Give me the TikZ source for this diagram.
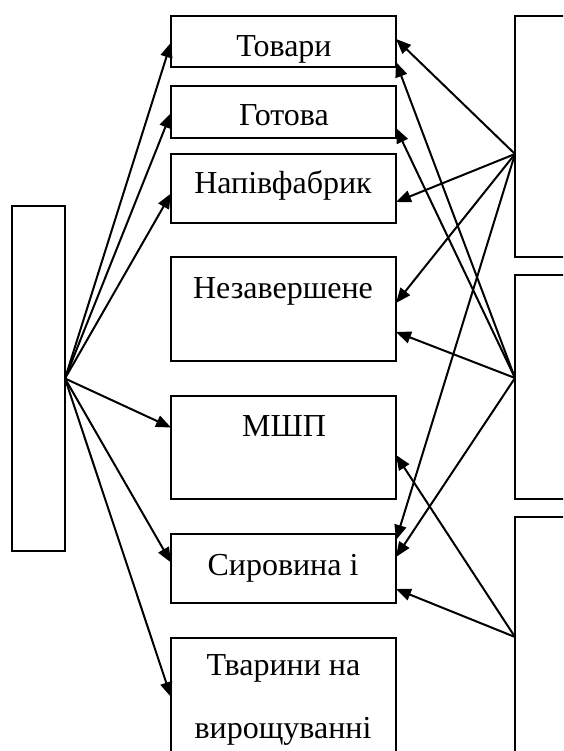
\documentclass[tikz,border=0pt]{standalone}
\usepackage{fontspec}
\setmainfont{Liberation Serif}
\usetikzlibrary{arrows.meta}
\begin{document}
\begin{tikzpicture}[x=1pt,y=-1pt,
  box/.style={draw,line width=1.8pt,inner sep=0pt,outer sep=0pt,minimum width=225pt},
  lbl/.style={anchor=base,inner sep=0pt,font=\fontsize{32}{38}\selectfont},
  arr/.style={line width=2pt,-{Triangle[length=15pt,width=12pt]}}]
\useasboundingbox (0,0) rectangle (563,751);
\begin{scope}
\clip (0,0) rectangle (563,751);

% left box
\node[box,minimum width=53pt,minimum height=345pt] (lb) at (38.5,378.5) {};

% central column
\node[box,minimum height=51pt]  (tov) at (283.5,41.5) {};
\node[box,minimum height=52pt]  (got) at (283.5,112) {};
\node[box,minimum height=69pt]  (nap) at (283.5,188.5) {};
\node[box,minimum height=104pt] (nez) at (283.5,309) {};
\node[box,minimum height=103pt] (msp) at (283.5,447.5) {};
\node[box,minimum height=69pt]  (syr) at (283.5,568.5) {};
\node[box,minimum height=152pt] (tva) at (283.5,714) {};

\node[lbl] (ttov) at (284,57)  {Товари};
\node[lbl] (tgot) at (284,126) {Готова};
\node[lbl] (tnap) at (283,194) {Напівфабрик};
\node[lbl] (tnez) at (283,298) {Незавершене};
\node[lbl] (tmsp) at (284,436) {МШП};
\node[lbl] (tsyr) at (283,575) {Сировина і};
\node[lbl] (ttv1) at (283.5,675) {Тварини на};
\node[lbl] (ttv2) at (283,738) {вирощуванні};

% right column (partly outside the frame)
\node[box,minimum width=105pt,minimum height=241pt] (r1) at (567.5,136.5) {};
\node[box,minimum width=105pt,minimum height=224pt] (r2) at (567.5,387) {};
\node[box,minimum width=105pt,minimum height=283pt] (r3) at (567.5,658.5) {};

% fan points
\coordinate (pl) at (lb.east);
\coordinate (p1) at (515,154);
\coordinate (p2) at (515,378);
\coordinate (p3) at (515,637);

% arrows from the left box
\draw[arr] (pl) -- ([yshift=-1pt]tov.west);
\draw[arr] (pl) -- ([yshift=-1pt]got.west);
\draw[arr] (pl) -- ([yshift=-5pt]nap.west);
\draw[arr] (pl) -- ([yshift=20pt]msp.west);
\draw[arr] (pl) -- ([yshift=6pt]syr.west);
\draw[arr] (pl) -- ([yshift=-59pt]tva.north west);

% arrows from the first right box
\draw[arr] (p1) -- ([yshift=2.5pt]tov.east);
\draw[arr] (p1) -- ([yshift=-13.5pt]nap.east);
\draw[arr] (p1) -- ([yshift=6pt]nez.east);
\draw[arr] (p1) -- ([yshift=28.5pt]syr.east);

% arrows from the second right box
\draw[arr] (p2) -- ([yshift=-20.5pt]tov.east);
\draw[arr] (p2) -- ([yshift=-16pt]got.east);
\draw[arr] (p2) -- ([yshift=-23pt]nez.east);
\draw[arr] (p2) -- ([yshift=11.5pt]syr.east);

% arrows from the third right box
\draw[arr] (p3) -- ([yshift=-7.5pt]msp.east);
\draw[arr] (p3) -- ([yshift=-20.5pt]syr.east);
\end{scope}
\end{tikzpicture}
\end{document}
